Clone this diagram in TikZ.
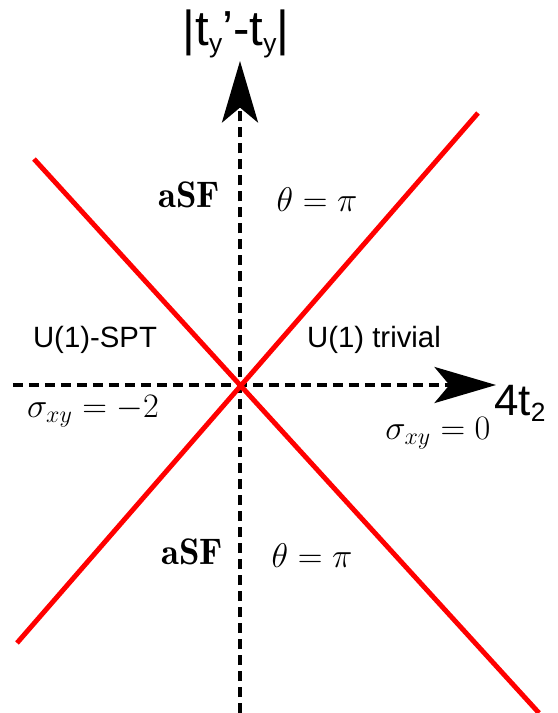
\documentclass[tikz,border=0pt]{standalone}
\usepackage{fix-cm}
\usepackage{amsmath, amssymb}
\usepackage{fontspec}
\setsansfont{Liberation Sans}
\usepackage{tikz}
\usetikzlibrary{arrows.meta}
\usepackage{xcolor}
\definecolor{transition}{RGB}{255, 0, 0}
\newcommand{\lowsub}[1]{\raisebox{-0.3ex}{\fontsize{15}{16}\selectfont #1}}

\begin{document}
\begin{tikzpicture}[
  axis/.style={line width=2.3pt, dash pattern=on 5.7pt off 3.4pt,
    -{Stealth[length=35pt, width=20.5pt, inset=8.5pt]}},
  boundary/.style={line width=2.8pt, transition},
  phase/.style={font=\sffamily\fontsize{16.7}{20}\selectfont},
  mathlbl/.style={font=\fontsize{19.5}{22}\selectfont},
  boldlbl/.style={font=\fontsize{21}{24}\selectfont},
  axlbl/.style={font=\sffamily\fontsize{28}{32}\selectfont}]
  \useasboundingbox (-4.8,-6.56) rectangle (6.34,7.7);

  % axes
  \coordinate (ybot) at (0,-6.56);
  \coordinate (ytop) at (0,6.48);
  \coordinate (xleft) at (-4.54,0);
  \coordinate (xright) at (5.12,0);
  \draw[axis] (ybot) -- (ytop);
  \draw[axis] (xleft) -- (xright);

  % phase boundaries
  \coordinate (aTop) at (-4.12,4.52);
  \coordinate (aBot) at (5.98,-6.56);
  \coordinate (bBot) at (-4.46,-5.16);
  \coordinate (bTop) at (4.76,5.44);
  \draw[boundary] (aTop) -- (aBot);
  \draw[boundary] (bBot) -- (bTop);

  % axis labels
  \node[axlbl] (ylabel) at (-0.08,7.02) {|t\lowsub{y}'-t\lowsub{y}|};
  \node[axlbl, font=\sffamily\fontsize{25}{30}\selectfont, anchor=base west, inner sep=0pt]
    (xlabel) at (5.08,-0.6) {4t\lowsub{2}};

  % phases
  \node[phase] (spt) at (-2.9,0.9) {U(1)-SPT};
  \node[phase] (triv) at (2.68,0.9) {U(1) trivial};
  \node[boldlbl] (asfTop) at (-1.02,3.8) {$\mathbf{aSF}$};
  \node[mathlbl] (thetaTop) at (1.54,3.7) {$\theta=\pi$};
  \node[boldlbl] (asfBot) at (-0.96,-3.34) {$\mathbf{aSF}$};
  \node[mathlbl] (thetaBot) at (1.44,-3.42) {$\theta=\pi$};
  \node[mathlbl] (sigmaL) at (-2.94,-0.52) {$\sigma_{xy}=-2$};
  \node[mathlbl] (sigmaR) at (3.96,-0.96) {$\sigma_{xy}=0$};
\end{tikzpicture}
\end{document}
